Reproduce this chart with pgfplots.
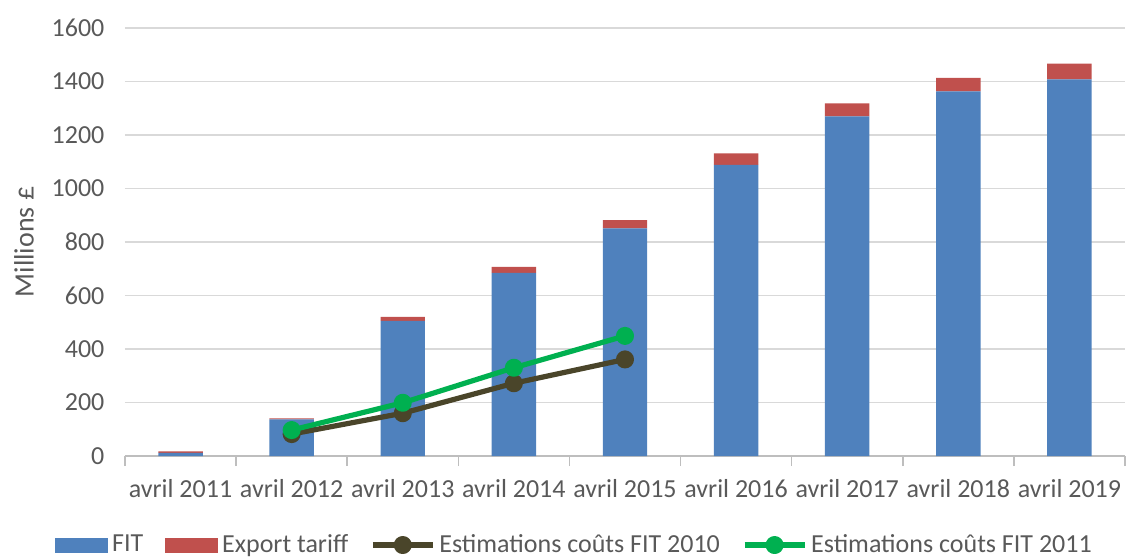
\documentclass[border=0pt]{standalone}
\usepackage{pgfplots}
\pgfplotsset{compat=1.18}
\usepackage{fontspec}
\setmainfont{Carlito}

\definecolor{fitblue}{HTML}{4F81BD}
\definecolor{expred}{HTML}{C0504D}
\definecolor{est10}{HTML}{4A452A}
\definecolor{est11}{HTML}{00B050}
\definecolor{txt}{HTML}{595959}
\definecolor{gridc}{HTML}{D9D9D9}

\pgfplotsset{
  base/.style={
    at={(0,0)}, anchor=south west,
    scale only axis, width=500pt, height=214pt,
    xmin=-0.5, xmax=8.5, ymin=0, ymax=1600,
    /pgf/number format/assume math mode=true,
    /pgf/number format/1000 sep={},
  },
  linelegend/.style={
    legend image code/.code={
      \draw[##1, mark repeat=2, mark phase=2] plot coordinates {(0pt,0pt) (15pt,0pt) (30pt,0pt)};
    },
  },
  barlegend/.style={
    legend image code/.code={\fill[#1] (0pt,-3.5pt) rectangle (26pt,3.5pt);},
  },
}

\begin{document}
\begin{tikzpicture}
% stacked bars
\begin{axis}[
    base,
    ybar stacked,
    bar width=0.4,
    ytick={0,200,...,1600},
    xtick={0,...,8},
    xticklabels={avril 2011,avril 2012,avril 2013,avril 2014,avril 2015,avril 2016,avril 2017,avril 2018,avril 2019},
    minor xtick={-0.5,0.5,...,8.5},
    major x tick style={draw=none},
    minor x tick style={gridc!70!gray, line width=0.75pt},
    minor tick length=5pt,
    tick align=outside,
    axis x line*=bottom, axis y line*=left,
    x axis line style={-, gridc!70!gray, line width=0.75pt},
    y axis line style={draw=none},
    ytick style={draw=none},
    ymajorgrids, grid style={gridc, line width=0.75pt},
    tick label style={font=\fontsize{13}{15}\selectfont, text=txt},
    xticklabel style={yshift=-4pt},
    yticklabel style={xshift=-2.5pt},
    ylabel={Millions £},
    ylabel style={at={(axis description cs:-0.101,0.5)}, anchor=center, rotate=0,
                  font=\fontsize{14}{16}\selectfont, text=txt},
]
\addplot+[fill=fitblue, draw=none] coordinates {(0,12) (1,137) (2,505) (3,685) (4,851) (5,1088) (6,1270) (7,1363) (8,1408)};
\addplot+[fill=expred, draw=none] coordinates {(0,5) (1,4) (2,15) (3,22) (4,31) (5,43) (6,48) (7,51) (8,59)};
\end{axis}

% estimation lines
\begin{axis}[
    base,
    hide axis,
    legend columns=-1,
    legend style={at={(axis description cs:-0.07,-0.208)}, anchor=west,
                  draw=none, fill=none, inner sep=0pt,
                  font=\fontsize{13}{15}\selectfont, text=txt,
                  /tikz/every even column/.append style={column sep=9pt}},
]
\addlegendimage{barlegend=fitblue}
\addlegendentry{FIT}
\addlegendimage{barlegend=expred}
\addlegendentry{Export tariff}
\addplot[est10, line width=2.6pt, mark=*, mark size=3.2pt, line join=round, linelegend]
  coordinates {(1,82) (2,160) (3,272) (4,361)};
\addlegendentry{Estimations coûts FIT 2010}
\addplot[est11, line width=2.6pt, mark=*, mark size=3.2pt, line join=round, linelegend]
  coordinates {(1,97) (2,199) (3,330) (4,449)};
\addlegendentry{Estimations coûts FIT 2011}
\end{axis}
\pgfresetboundingbox
\useasboundingbox (-62.5pt,-51pt) rectangle (501pt,228pt);
\end{tikzpicture}
\end{document}
